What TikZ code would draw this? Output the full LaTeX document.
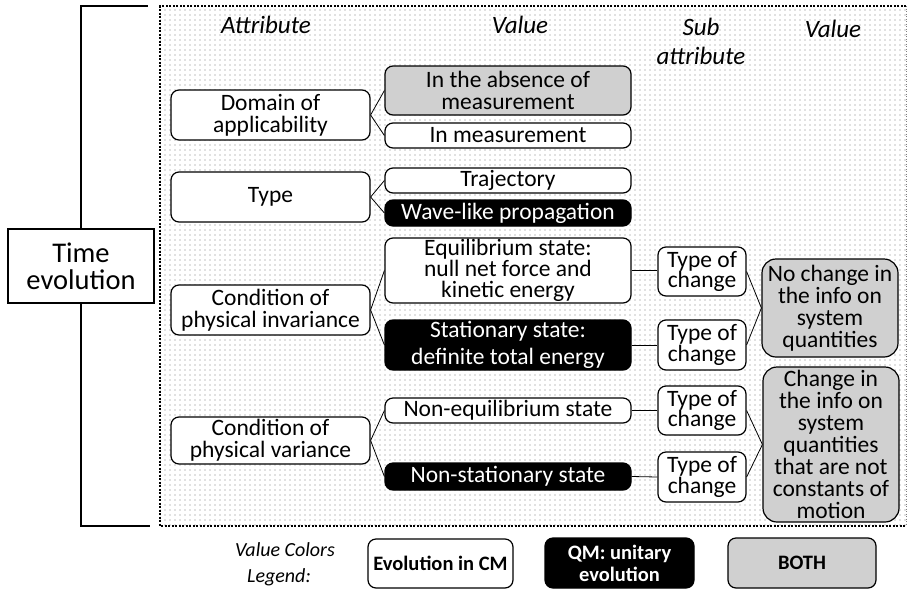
\documentclass[tikz,border=0pt]{standalone}
\usepackage{fontspec}
\setmainfont{Carlito}
\usetikzlibrary{patterns.meta}
\definecolor{boxgrey}{RGB}{208,208,208}
\begin{document}
\begin{tikzpicture}[x=1pt,y=-1pt,
  base/.style={draw=black, line width=1.2pt, rounded corners=8pt, inner sep=0pt,
    align=center, font=\fontsize{23.5}{22}\selectfont},
  wbox/.style={base, fill=white},
  gbox/.style={base, fill=boxgrey},
  kbox/.style={base, fill=black, text=white},
  subbox/.style={wbox, minimum width=88pt, font=\fontsize{23.5}{20.5}\selectfont},
  link/.style={draw=black, line width=0.8pt},
  hdr/.style={font=\fontsize{25}{22}\selectfont\itshape},
  legbox/.style={base, font=\fontsize{20.5}{22}\selectfont\bfseries},
]
\useasboundingbox (0,0) rectangle (908,590);

% dotted panel holding the attribute tree
\fill[white] (160,6) rectangle (906,526);
\fill[pattern={Dots[radius=0.6pt,distance=5pt]}, pattern color=gray] (160,6) rectangle (906,526);
\draw[line width=2pt, dash pattern=on 2pt off 1.5pt] (906,6) -- (160,6) -- (160,526) -- (906,526);
\draw[gray, line width=0.7pt, dash pattern=on 1pt off 1.5pt] (906,6) -- (906,526);

% column headings
\node[hdr] (h1) at (266,25) {Attribute};
\node[hdr] (h2) at (520,25) {Value};
\node[hdr] (h3) at (701,27) {Sub};
\node[hdr] (h4) at (701,56) {attribute};
\node[hdr] (h5) at (833,29) {Value};

% root and bracket
\node[draw=black, line width=2pt, fill=white, minimum width=146pt, minimum height=74pt,
  inner sep=0pt, align=center, font=\fontsize{28.5}{27}\selectfont] (te) at (81,266) {Time\\evolution};
\coordinate (bt) at (148,6);
\coordinate (bb) at (150,526);
\draw[line width=1.4pt] (te.north) |- (bt);
\draw[line width=1.4pt] (te.south) |- (bb);

% attributes
\node[wbox, minimum width=199pt, minimum height=50pt] (a1) at (270.5,115) {Domain of\\applicability};
\node[wbox, minimum width=199pt, minimum height=50pt] (a2) at (270.5,197) {Type};
\node[wbox, minimum width=199pt, minimum height=50pt] (a3) at (270.5,310) {Condition of\\physical invariance};
\node[wbox, minimum width=199pt, minimum height=47pt] (a4) at (270.5,440.5) {Condition of\\physical variance};

% values
\node[gbox, minimum width=246pt, minimum height=49pt] (v1) at (508,90.5) {In the absence of\\measurement};
\node[wbox, minimum width=246pt, minimum height=25pt] (v2) at (508,135.5) {In measurement};
\node[wbox, minimum width=246pt, minimum height=25pt] (v3) at (508,180.5) {Trajectory};
\node[kbox, minimum width=246pt, minimum height=26pt] (v4) at (508,213) {Wave-like propagation};
\node[wbox, minimum width=246pt, minimum height=65pt, font=\fontsize{23.5}{21}\selectfont] (v5) at (508,270.5) {Equilibrium state:\\null net force and\\kinetic energy};
\node[kbox, minimum width=246pt, minimum height=50pt, font=\fontsize{23.5}{27}\selectfont] (v6) at (508,345) {Stationary state:\\definite total energy};
\node[wbox, minimum width=246pt, minimum height=25pt] (v7) at (508,410.5) {Non-equilibrium state};
\node[kbox, minimum width=246pt, minimum height=27pt] (v8) at (508,476.5) {Non-stationary state};

% sub attributes
\node[subbox, minimum height=49pt] (s1) at (702,271.5) {Type of\\change};
\node[subbox, minimum height=50pt] (s2) at (702,345) {Type of\\change};
\node[subbox, minimum height=49pt] (s3) at (702,410.5) {Type of\\change};
\node[subbox, minimum height=50pt] (s4) at (702,477) {Type of\\change};

% sub values
\node[gbox, rounded corners=14pt, minimum width=136pt, minimum height=98pt] (r1) at (830,308)
  {No change in\\the info on\\system\\quantities};
\node[gbox, rounded corners=14pt, minimum width=136pt, minimum height=155pt] (r2) at (831,444.5)
  {Change in\\the info on\\system\\quantities\\that are not\\constants of\\motion};

% connectors
\draw[link] (a1.east) -- (v1.west);
\draw[link] (a1.east) -- (v2.west);
\draw[link] (a2.east) -- (v3.west);
\draw[link] (a2.east) -- (v4.west);
\draw[link] (a3.east) -- (v5.west);
\draw[link] (a3.east) -- (v6.west);
\draw[link] (a4.east) -- (v7.west);
\draw[link] (a4.east) -- (v8.west);
\draw[link] (v5.east) -- (v5.east -| s1.west);
\draw[link] (v6.east) -- (s2.west);
\draw[link] (v7.east) -- (s3.west);
\draw[link] (v8.east) -- (s4.west);
\draw[link] (s1.east) -- (r1.west);
\draw[link] (s2.east) -- (r1.west);
\draw[link] (s3.east) -- (r2.west);
\draw[link] (s4.east) -- (r2.west);

% legend
\node[font=\fontsize{20}{22}\selectfont\itshape] (lg1) at (285,550) {Value Colors};
\node[font=\fontsize{20}{22}\selectfont\itshape] (lg2) at (279,577) {Legend:};
\node[legbox, fill=white, minimum width=145pt, minimum height=49pt] (l1) at (440.5,563.5) {Evolution in CM};
\node[legbox, fill=black, text=white, minimum width=149pt, minimum height=50pt] (l2) at (619.5,563) {QM: unitary\\evolution};
\node[legbox, fill=boxgrey, minimum width=148pt, minimum height=50pt] (l3) at (802,563) {BOTH};
\end{tikzpicture}
\end{document}
